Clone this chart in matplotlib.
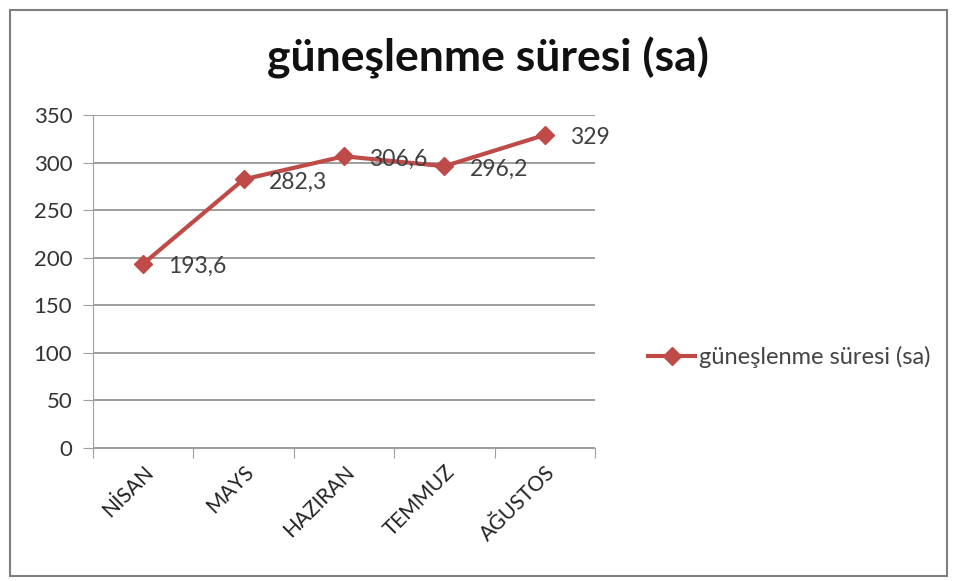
import matplotlib
matplotlib.use('Agg')
import matplotlib.pyplot as plt
from matplotlib.patches import Rectangle

plt.rcParams['font.family'] = ['Lato', 'DejaVu Sans']

months = ['NİSAN', 'MAYS', 'HAZIRAN', 'TEMMUZ', 'AĞUSTOS']
hours = [193.6, 282.3, 306.6, 296.2, 329]
value_labels = ['193,6', '282,3', '306,6', '296,2', '329']
series_name = 'güneşlenme süresi (sa)'

W, H = 957, 581
fig = plt.figure(figsize=(W / 100, H / 100), dpi=100)
ax = fig.add_axes([93 / W, 1 - 448 / H, 502 / W, (448 - 115) / H])

red = '#BE4B48'
x = list(range(len(months)))
line, = ax.plot(x, hours, color=red, lw=3, marker='D', ms=9, label=series_name)
for xi, yi, lab in zip(x, hours, value_labels):
    ax.annotate(lab, (xi, yi), xytext=(18, -2), textcoords='offset points',
                va='center', ha='left', fontsize=16.5, color='#404040')

ax.set_xlim(-0.5, len(months) - 0.5)
ax.set_ylim(0, 350)
ax.set_yticks(range(0, 351, 50))
ax.set_xticks([i - 0.5 for i in range(len(months) + 1)], minor=False)
ax.set_xticklabels([])
ax.set_xticks(x, minor=True)
ax.set_xticklabels(months, minor=True, rotation=45, ha='right', va='top',
                   rotation_mode='anchor', fontsize=15, color='#222222')
ax.tick_params(axis='x', which='minor', length=0, pad=10)
ax.tick_params(axis='x', which='major', length=7, color='#a0a0a0', direction='out')
ax.tick_params(axis='y', length=7, color='#a0a0a0', labelsize=16,
               labelcolor='#333333', pad=8)
ax.grid(axis='y', color='#8c8c8c', lw=1.2)
ax.set_axisbelow(True)
for s in ['top', 'right']:
    ax.spines[s].set_visible(False)
ax.spines['left'].set_color('#a0a0a0')
ax.spines['bottom'].set_color('#a0a0a0')

fig.text(488 / W, 1 - 58 / H, series_name, ha='center', va='center',
         fontsize=32, fontweight='bold', color='#111111')

fig.legend(handles=[line], loc='center left', bbox_to_anchor=(627 / W, 1 - 357 / H),
           frameon=False, fontsize=17, handlelength=2.0, handletextpad=0.15,
           labelcolor='#444444')

fig.patches.append(Rectangle((10 / W, 1 - 576 / H), 937 / W, 566 / H,
                             transform=fig.transFigure, fill=False,
                             edgecolor='#7f7f7f', lw=1.5))

fig.savefig('out.png', dpi=100)
